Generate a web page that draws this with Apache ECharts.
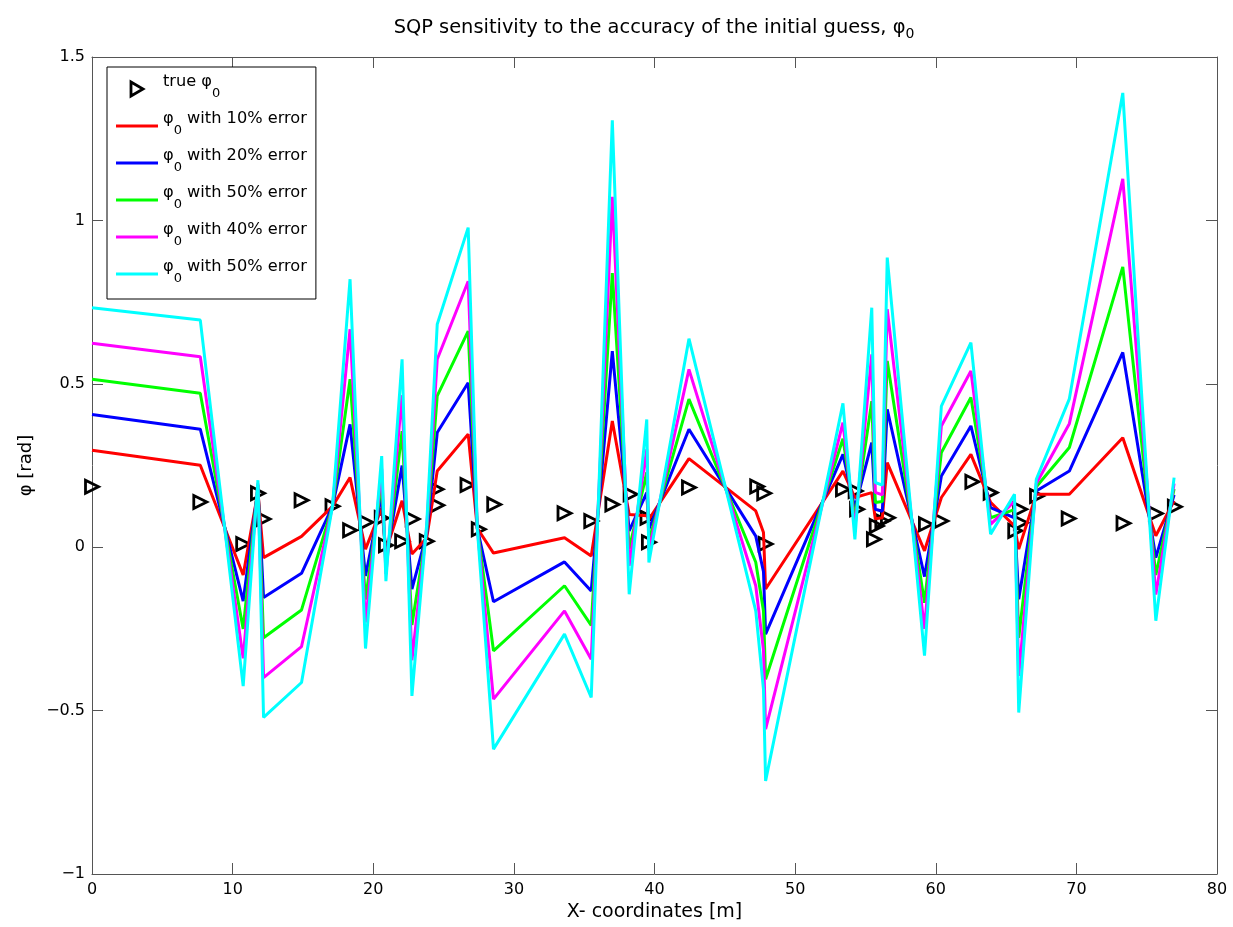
<!DOCTYPE html>
<html><head><meta charset="utf-8">
<script src="https://cdn.jsdelivr.net/npm/echarts@6/dist/echarts.min.js"></script>
<style>html,body{margin:0;padding:0;background:#fff}#c{width:1233px;height:927px}</style>
</head><body><div id="c"></div><script>
// ---- data ----
const lineX = [0, 7.7, 10.75, 11.8, 12.2, 14.9, 17.1, 18.35, 19.45, 20.6, 20.9, 22.05, 22.75, 23.8, 24.55, 26.75, 27.4, 28.55, 33.6, 35.5, 37.0, 38.2, 39.45, 39.6, 42.45, 47.2, 47.75, 47.9, 53.4, 54.25, 55.45, 55.7, 56.2, 56.55, 59.2, 60.4, 62.5, 63.9, 65.6, 65.9, 67.15, 69.5, 73.3, 75.65, 76.95];
const err10 = [0.297, 0.251, -0.085, 0.17, -0.032, 0.033, 0.125, 0.213, -0.006, 0.12, -0.01, 0.142, -0.021, 0.028, 0.233, 0.346, 0.058, -0.018, 0.029, -0.027, 0.386, 0.1, 0.096, 0.085, 0.271, 0.111, 0.045, -0.128, 0.233, 0.152, 0.167, 0.087, 0.09, 0.259, -0.011, 0.152, 0.284, 0.137, 0.065, -0.006, 0.162, 0.162, 0.335, 0.035, 0.142];
const err20 = [0.406, 0.361, -0.165, 0.18, -0.154, -0.08, 0.125, 0.376, -0.088, 0.16, -0.035, 0.25, -0.128, 0.04, 0.351, 0.503, 0.058, -0.167, -0.045, -0.134, 0.6, 0.05, 0.167, 0.055, 0.361, 0.034, -0.075, -0.266, 0.284, 0.12, 0.32, 0.116, 0.11, 0.422, -0.09, 0.218, 0.371, 0.121, 0.09, -0.159, 0.172, 0.233, 0.596, -0.032, 0.16];
const err50a = [0.514, 0.471, -0.25, 0.19, -0.277, -0.192, 0.125, 0.514, -0.16, 0.2, -0.06, 0.355, -0.238, 0.05, 0.463, 0.661, 0.058, -0.317, -0.118, -0.239, 0.839, -0.005, 0.229, 0.02, 0.453, -0.046, -0.195, -0.404, 0.332, 0.09, 0.447, 0.137, 0.14, 0.57, -0.17, 0.29, 0.458, 0.09, 0.115, -0.277, 0.185, 0.305, 0.858, -0.085, 0.178];
const err40 = [0.624, 0.583, -0.34, 0.195, -0.399, -0.304, 0.125, 0.667, -0.23, 0.24, -0.082, 0.465, -0.346, 0.06, 0.575, 0.814, 0.058, -0.465, -0.195, -0.343, 1.072, -0.057, 0.3, -0.01, 0.544, -0.118, -0.315, -0.557, 0.381, 0.057, 0.59, 0.168, 0.16, 0.728, -0.25, 0.371, 0.539, 0.07, 0.14, -0.394, 0.195, 0.378, 1.127, -0.145, 0.195];
const err50b = [0.733, 0.695, -0.425, 0.205, -0.521, -0.414, 0.125, 0.82, -0.31, 0.279, -0.104, 0.575, -0.455, 0.07, 0.682, 0.978, 0.058, -0.618, -0.266, -0.46, 1.306, -0.144, 0.391, -0.047, 0.638, -0.195, -0.435, -0.715, 0.44, 0.024, 0.733, 0.198, 0.19, 0.886, -0.332, 0.432, 0.626, 0.04, 0.162, -0.506, 0.208, 0.454, 1.39, -0.225, 0.213];
const trueX = [0, 7.7, 10.75, 11.8, 12.2, 14.9, 17.1, 18.35, 19.5, 20.6, 20.9, 22.05, 22.8, 23.8, 24.5, 24.55, 26.7, 27.5, 28.6, 33.6, 35.5, 37.0, 38.3, 39.5, 39.6, 42.45, 47.3, 47.8, 47.9, 53.4, 54.3, 54.4, 55.6, 55.8, 56.2, 56.6, 59.3, 60.4, 62.6, 63.9, 65.65, 66.0, 66.05, 67.2, 69.45, 73.35, 75.65, 77.0];
const trueY = [0.185, 0.138, 0.01, 0.165, 0.086, 0.144, 0.125, 0.052, 0.076, 0.089, 0.006, 0.018, 0.086, 0.018, 0.177, 0.128, 0.19, 0.055, 0.131, 0.104, 0.08, 0.131, 0.162, 0.09, 0.015, 0.183, 0.186, 0.165, 0.01, 0.177, 0.172, 0.116, 0.024, 0.065, 0.08, 0.09, 0.07, 0.08, 0.2, 0.167, 0.05, 0.116, 0.075, 0.157, 0.088, 0.073, 0.103, 0.124];
const seriesKeys = ['true', 'e10', 'e20', 'e50a', 'e40', 'e50b'];
const legendTexts = ['{m|true φ}{s|0}', '{m|φ}{s|0}{m| with 10% error}', '{m|φ}{s|0}{m| with 20% error}', '{m|φ}{s|0}{m| with 50% error}', '{m|φ}{s|0}{m| with 40% error}', '{m|φ}{s|0}{m| with 50% error}'];
const lineColors = ['#ff0000', '#0000ff', '#00ff00', '#ff00ff', '#00ffff'];
const xTickLabels = ['0', '10', '20', '30', '40', '50', '60', '70', '80'];
const yTickValues = [-1, -0.5, 0, 0.5, 1, 1.5];
const yTickLabels = ['\u22121', '\u22120.5', '0', '0.5', '1', '1.5'];
const titleText = '{m|SQP sensitivity to the accuracy of the initial guess, φ}{s|0}';
const xName = 'X- coordinates [m]';
const yName = 'φ [rad]';

// ---- chart ----
const FONT = 'DejaVu Sans';
const lineSets = [err10, err20, err50a, err40, err50b];
const chart = echarts.init(document.getElementById('c'), null, {renderer: 'canvas'});
const axisLineStyle = {color: '#555', width: 1};
const tick = {inside: true, length: 11, lineStyle: {color: '#555'}};
const series = [{
  name: seriesKeys[0], type: 'scatter', xAxisIndex: 0, yAxisIndex: 0,
  symbol: 'triangle', symbolRotate: -90, symbolSize: 13,
  itemStyle: {color: 'rgba(0,0,0,0)', borderColor: '#000', borderWidth: 2.8, opacity: 1},
  data: trueX.map((x, i) => [x, trueY[i]]), z: 2
}];
lineSets.forEach((arr, k) => {
  series.push({
    name: seriesKeys[k + 1], type: 'line', xAxisIndex: 0, yAxisIndex: 0,
    symbol: 'none', showSymbol: false,
    lineStyle: {color: lineColors[k], width: 3},
    itemStyle: {color: lineColors[k]},
    data: lineX.map((x, i) => [x, arr[i]]), z: 3 + k
  });
});
const richSub = {
  m: {fontFamily: FONT, fontSize: 16.2, lineHeight: 18, color: '#000', padding: [0, 0, 14, 0]},
  s: {fontFamily: FONT, fontSize: 13, lineHeight: 13, color: '#000', padding: [9, 0, 0, 0]}
};
chart.setOption({
  animation: false,
  backgroundColor: '#fff',
  title: {
    text: titleText, left: 654, top: 17, textAlign: 'center', padding: 0,
    textStyle: {fontWeight: 'normal', rich: {
      m: {fontFamily: FONT, fontSize: 19.4, fontWeight: 'normal', lineHeight: 22, color: '#000'},
      s: {fontFamily: FONT, fontSize: 14, fontWeight: 'normal', lineHeight: 14, color: '#000', padding: [12, 0, 0, 0]}
    }}
  },
  grid: {left: 92, right: 16, top: 57, bottom: 52, containLabel: false},
  legend: {
    orient: 'vertical', left: 107, top: 67,
    padding: [7, 9, 10, 9], itemGap: 7, itemWidth: 42, itemHeight: 14,
    backgroundColor: '#fff', borderColor: '#000', borderWidth: 1,
    data: seriesKeys.map((k, i) => i === 0
      ? {name: k, icon: 'path://M0 0L12 7L0 14Z', itemStyle: {color: 'rgba(0,0,0,0)', borderColor: '#000', borderWidth: 2.8, opacity: 1}}
      : {name: k, icon: 'path://M0 0H42V3H0Z', itemStyle: {color: lineColors[i - 1], borderWidth: 0}}),
    formatter: name => legendTexts[seriesKeys.indexOf(name)],
    textStyle: {fontFamily: FONT, fontSize: 16.2, color: '#000', rich: richSub},
    selectedMode: false
  },
  xAxis: [{
    type: 'value', min: 0, max: 80, interval: 10, position: 'bottom',
    name: xName, nameLocation: 'middle', nameGap: 29,
    nameTextStyle: {fontFamily: FONT, fontSize: 19, color: '#000'},
    axisLine: {show: true, onZero: false, lineStyle: axisLineStyle}, axisTick: tick,
    axisLabel: {fontFamily: FONT, fontSize: 16, color: '#000', margin: 8,
      formatter: v => xTickLabels[Math.round(v / 10)]},
    splitLine: {show: false}
  }, {
    type: 'value', min: 0, max: 80, interval: 10, position: 'top',
    axisLine: {show: true, onZero: false, lineStyle: axisLineStyle}, axisTick: tick,
    axisLabel: {show: false}, splitLine: {show: false}
  }],
  yAxis: [{
    type: 'value', min: -1, max: 1.5, interval: 0.5, position: 'left',
    name: yName, nameLocation: 'middle', nameGap: 48,
    nameTextStyle: {fontFamily: FONT, fontSize: 18, color: '#000'},
    axisLine: {show: true, onZero: false, lineStyle: axisLineStyle}, axisTick: tick,
    axisLabel: {fontFamily: FONT, fontSize: 16, color: '#000', margin: 7,
      formatter: v => { const i = yTickValues.findIndex(t => Math.abs(t - v) < 1e-9); return i >= 0 ? yTickLabels[i] : ''; }},
    splitLine: {show: false}
  }, {
    type: 'value', min: -1, max: 1.5, interval: 0.5, position: 'right',
    axisLine: {show: true, onZero: false, lineStyle: axisLineStyle}, axisTick: tick,
    axisLabel: {show: false}, splitLine: {show: false}
  }],
  series: series
});
</script></body></html>
